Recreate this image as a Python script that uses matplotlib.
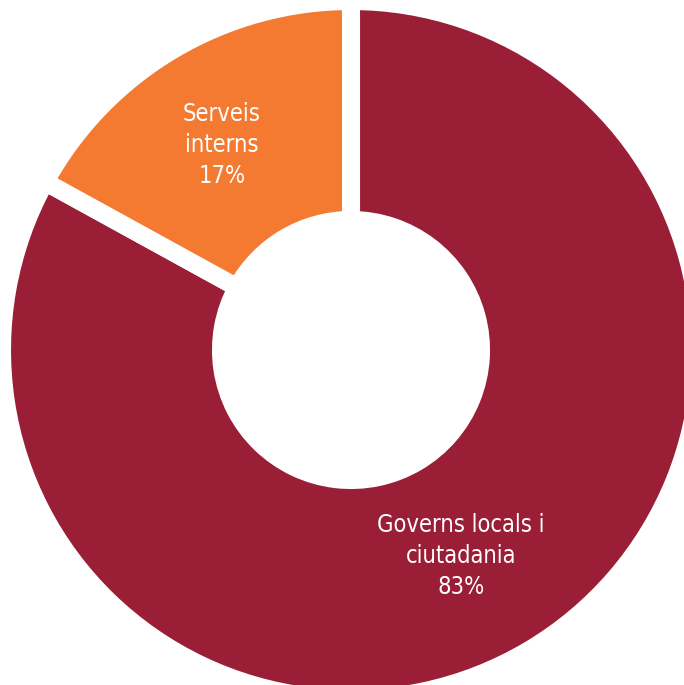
import matplotlib
matplotlib.use("Agg")
import matplotlib.pyplot as plt
from matplotlib import font_manager

# Dades
categories = ["Governs locals i\nciutadania", "Serveis\ninterns"]
percentatges = [83, 17]
colors = ["#9A1E35", "#F47A32"]

# Font estreta si n'hi ha
noms = {f.name for f in font_manager.fontManager.ttflist}
if "Liberation Sans Narrow" in noms:
    font_kw = dict(family="Liberation Sans Narrow")
else:
    font_kw = dict(family="DejaVu Sans", fontstretch="condensed")

W, H = 684, 685
cx, cy = 351, 350
R = 349
gruix = 219

fig = plt.figure(figsize=(W / 100, H / 100), dpi=100)
ax = fig.add_axes([0, 0, 1, 1])

ax.pie(percentatges, colors=colors, startangle=90, counterclock=False,
       radius=R, center=(0, 0), frame=True,
       wedgeprops=dict(width=gruix, edgecolor="white", linewidth=13))
ax.set_xlim(-cx, W - cx)
ax.set_ylim(-(H - cy), cy)
ax.set_aspect("auto")
ax.axis("off")

# Etiquetes
posicions = [(461 - cx, cy - 556), (222 - cx, cy - 145)]
for cat, pct, (x, y) in zip(categories, percentatges, posicions):
    ax.text(x, y, f"{cat}\n{pct}%", ha="center", va="center",
            color="white", fontsize=17, linespacing=1.37, **font_kw)

plt.savefig("out.png", dpi=100)
